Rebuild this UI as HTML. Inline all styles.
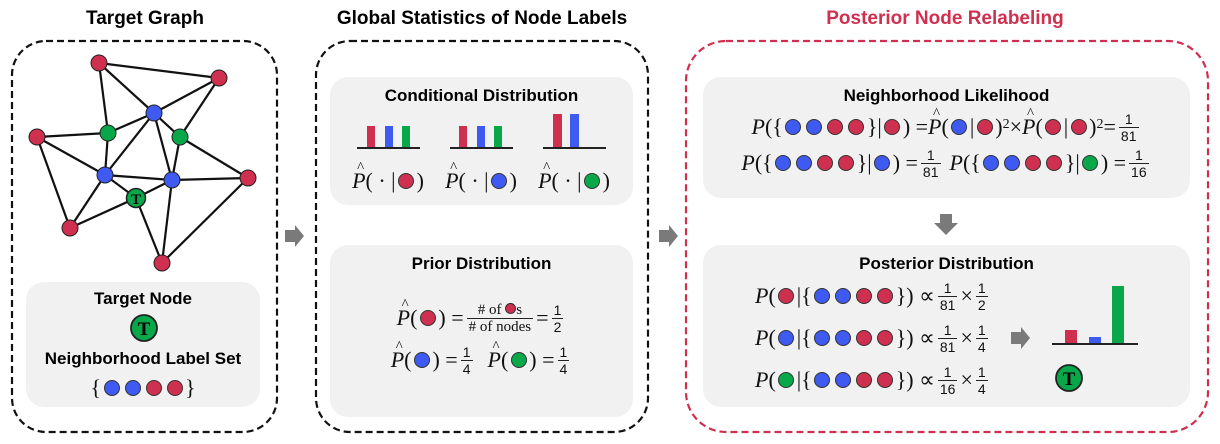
<!DOCTYPE html>
<html><head><meta charset="utf-8">
<style>
html,body{margin:0;padding:0;background:#fff;}
#w{position:relative;width:1220px;height:444px;overflow:hidden;font-family:"Liberation Sans",sans-serif;}
svg{position:absolute;left:0;top:0;}
.t{position:absolute;font-weight:bold;font-size:17px;text-align:center;white-space:nowrap;color:#000;}
.m{position:absolute;font-family:"Liberation Serif",serif;font-size:22px;white-space:nowrap;display:flex;align-items:center;justify-content:center;height:30px;color:#111;}
.c{display:inline-block;width:16px;height:16px;border-radius:50%;border:1px solid #333;box-sizing:border-box;margin:0 2.5px;}
.r{background:#d0304f}.b{background:#3f5af0}.g{background:#08a84a}
.fr{display:inline-flex;flex-direction:column;align-items:center;font-family:"Liberation Sans",sans-serif;font-size:14px;line-height:16px;margin:0 3px;}
.fr span:last-child{border-top:1px solid #222;padding:0 2px;}
.ph{position:relative;display:inline-block;}
.ph::before{content:"^";position:absolute;left:5px;top:-8px;font-size:15px;font-style:normal;}
.sp{display:inline-block;width:6px}
sup{font-size:14px;position:relative;top:-2px}
</style></head><body><div id="w">
<svg width="1220" height="444" viewBox="0 0 1220 444">
<rect x="12" y="41" width="265" height="391" rx="34" fill="none" stroke="#111" stroke-width="2.2" stroke-dasharray="7,4"/>
<rect x="316" y="41" width="332" height="391" rx="34" fill="none" stroke="#111" stroke-width="2.2" stroke-dasharray="7,4"/>
<rect x="686" y="41" width="522" height="391" rx="40" fill="none" stroke="#d0304f" stroke-width="2.2" stroke-dasharray="7,4"/>
<rect x="26" y="282" width="234" height="125" rx="18" fill="#f1f1f1"/>
<rect x="330" y="77" width="303" height="128" rx="18" fill="#f1f1f1"/>
<rect x="330" y="245" width="303" height="172" rx="18" fill="#f1f1f1"/>
<rect x="703" y="77" width="487" height="121" rx="18" fill="#f1f1f1"/>
<rect x="703" y="245" width="487" height="162" rx="18" fill="#f1f1f1"/>
<g fill="#7a7a7a">
<polygon points="285,230 295,230 295,225 304,236 295,247 295,242 285,242"/>
<polygon points="659,230 669,230 669,225 678,236 669,247 669,242 659,242"/>
<polygon points="940,214 952,214 952,223 958,223 946,235 934,223 940,223"/>
<polygon points="1011,332 1021,332 1021,327 1030,338 1021,349 1021,344 1011,344"/>
</g>
<g stroke="#111" stroke-width="2.2">
<line x1="99" y1="63" x2="219" y2="78"/><line x1="99" y1="63" x2="154" y2="113"/><line x1="99" y1="63" x2="108" y2="133"/>
<line x1="219" y1="78" x2="154" y2="113"/><line x1="219" y1="78" x2="180" y2="137"/>
<line x1="154" y1="113" x2="108" y2="133"/><line x1="154" y1="113" x2="180" y2="137"/><line x1="154" y1="113" x2="105" y2="175"/><line x1="154" y1="113" x2="172" y2="180"/>
<line x1="108" y1="133" x2="37" y2="137"/><line x1="108" y1="133" x2="105" y2="175"/>
<line x1="37" y1="137" x2="105" y2="175"/><line x1="37" y1="137" x2="70" y2="228"/>
<line x1="180" y1="137" x2="172" y2="180"/><line x1="180" y1="137" x2="248" y2="178"/>
<line x1="105" y1="175" x2="172" y2="180"/><line x1="105" y1="175" x2="136" y2="198"/><line x1="105" y1="175" x2="70" y2="228"/>
<line x1="136" y1="198" x2="172" y2="180"/><line x1="136" y1="198" x2="70" y2="228"/><line x1="136" y1="198" x2="162" y2="263"/>
<line x1="172" y1="180" x2="162" y2="263"/><line x1="172" y1="180" x2="248" y2="178"/><line x1="248" y1="178" x2="162" y2="263"/>
</g>
<g stroke="#222" stroke-width="1">
<circle cx="99" cy="63" r="8" fill="#d0304f"/><circle cx="219" cy="78" r="8" fill="#d0304f"/>
<circle cx="154" cy="113" r="8" fill="#3f5af0"/><circle cx="108" cy="133" r="8" fill="#08a84a"/>
<circle cx="180" cy="137" r="8" fill="#08a84a"/><circle cx="37" cy="137" r="8" fill="#d0304f"/>
<circle cx="105" cy="175" r="8" fill="#3f5af0"/><circle cx="172" cy="180" r="8" fill="#3f5af0"/>
<circle cx="248" cy="178" r="8" fill="#d0304f"/><circle cx="70" cy="228" r="8" fill="#d0304f"/>
<circle cx="162" cy="263" r="8" fill="#d0304f"/>
<circle cx="136" cy="198" r="9.5" fill="#08a84a" stroke-width="1.5"/>
<circle cx="144" cy="328" r="13" fill="#08a84a" stroke-width="1.8"/>
<circle cx="1069" cy="378" r="13" fill="#08a84a" stroke-width="1.8"/>
</g>
<g font-family="Liberation Serif,serif" font-weight="bold" text-anchor="middle" fill="#000">
<text x="136" y="204" font-size="15">T</text>
<text x="144" y="335" font-size="19">T</text>
<text x="1069" y="385" font-size="19">T</text>
</g>
<g>
<rect x="367" y="126" width="8" height="22" fill="#d0304f"/><rect x="385" y="126" width="8" height="22" fill="#3f5af0"/><rect x="402" y="126" width="8" height="22" fill="#08a84a"/>
<rect x="459" y="126" width="8" height="22" fill="#d0304f"/><rect x="477" y="126" width="8" height="22" fill="#3f5af0"/><rect x="494" y="126" width="8" height="22" fill="#08a84a"/>
<rect x="553" y="114" width="9" height="34" fill="#d0304f"/><rect x="570" y="114" width="9" height="34" fill="#3f5af0"/>
<rect x="1065" y="330" width="12" height="14" fill="#d0304f"/><rect x="1089" y="337" width="12" height="7" fill="#3f5af0"/><rect x="1112" y="286" width="12" height="58" fill="#08a84a"/>
</g>
<g stroke="#222" stroke-width="2">
<line x1="357" y1="148" x2="420" y2="148"/><line x1="450" y1="148" x2="513" y2="148"/><line x1="543" y1="148" x2="606" y2="148"/>
<line x1="1052" y1="344" x2="1138" y2="344"/>
</g>
</svg>

<div class="t" style="left:45px;top:8px;width:200px;font-size:19px">Target Graph</div>
<div class="t" style="left:312px;top:8px;width:340px;font-size:19px">Global Statistics of Node Labels</div>
<div class="t" style="left:770px;top:8px;width:350px;font-size:19px;color:#d0304f">Posterior Node Relabeling</div>

<div class="t" style="left:26px;top:289px;width:234px">Target Node</div>
<div class="t" style="left:26px;top:349px;width:234px">Neighborhood Label Set</div>
<div class="m" style="left:26px;top:373px;width:234px">{<span class="c b"></span><span class="c b"></span><span class="c r"></span><span class="c r"></span>}</div>

<div class="t" style="left:330px;top:86px;width:303px">Conditional Distribution</div>
<div class="m" style="left:338px;top:166px;width:100px"><span class="ph"><i>P</i></span>( · |<span class="c r"></span>)</div>
<div class="m" style="left:431px;top:166px;width:100px"><span class="ph"><i>P</i></span>( · |<span class="c b"></span>)</div>
<div class="m" style="left:524px;top:166px;width:100px"><span class="ph"><i>P</i></span>( · |<span class="c g"></span>)</div>

<div class="t" style="left:330px;top:254px;width:303px">Prior Distribution</div>
<div class="m" style="left:330px;top:303px;width:303px"><span class="ph"><i>P</i></span>(<span class="c r"></span>) = <span class="fr" style="font-family:'Liberation Serif',serif;font-size:15px"><span># of <span class="c r" style="width:11px;height:11px;margin:0"></span>s</span><span># of nodes</span></span>= <span class="fr"><span>1</span><span>2</span></span></div>
<div class="m" style="left:330px;top:345px;width:303px"><span class="ph"><i>P</i></span>(<span class="c b"></span>) = <span class="fr"><span>1</span><span>4</span></span><span class="sp"></span><span class="sp"></span><span class="ph"><i>P</i></span>(<span class="c g"></span>) = <span class="fr"><span>1</span><span>4</span></span></div>

<div class="t" style="left:703px;top:86px;width:487px">Neighborhood Likelihood</div>
<div class="m" style="left:703px;top:112px;width:487px"><i>P</i>({<span class="c b"></span><span class="c b"></span><span class="c r"></span><span class="c r"></span>}|<span class="c r"></span>) = <span class="ph"><i>P</i></span>(<span class="c b"></span>|<span class="c r"></span>)<sup>2</sup>×<span class="ph"><i>P</i></span>(<span class="c r"></span>|<span class="c r"></span>)<sup>2</sup>= <span class="fr"><span>1</span><span>81</span></span></div>
<div class="m" style="left:703px;top:148px;width:487px"><i>P</i>({<span class="c b"></span><span class="c b"></span><span class="c r"></span><span class="c r"></span>}|<span class="c b"></span>) = <span class="fr"><span>1</span><span>81</span></span><span class="sp"></span><i>P</i>({<span class="c b"></span><span class="c b"></span><span class="c r"></span><span class="c r"></span>}|<span class="c g"></span>) = <span class="fr"><span>1</span><span>16</span></span></div>

<div class="t" style="left:703px;top:254px;width:487px">Posterior Distribution</div>
<div class="m" style="left:755px;top:281px;justify-content:flex-start"><i>P</i>(<span class="c r"></span>|{<span class="c b"></span><span class="c b"></span><span class="c r"></span><span class="c r"></span>}) ∝<span class="fr"><span>1</span><span>81</span></span>×<span class="fr"><span>1</span><span>2</span></span></div>
<div class="m" style="left:755px;top:323px;justify-content:flex-start"><i>P</i>(<span class="c b"></span>|{<span class="c b"></span><span class="c b"></span><span class="c r"></span><span class="c r"></span>}) ∝<span class="fr"><span>1</span><span>81</span></span>×<span class="fr"><span>1</span><span>4</span></span></div>
<div class="m" style="left:755px;top:365px;justify-content:flex-start"><i>P</i>(<span class="c g"></span>|{<span class="c b"></span><span class="c b"></span><span class="c r"></span><span class="c r"></span>}) ∝<span class="fr"><span>1</span><span>16</span></span>×<span class="fr"><span>1</span><span>4</span></span></div>
</div></body></html>
